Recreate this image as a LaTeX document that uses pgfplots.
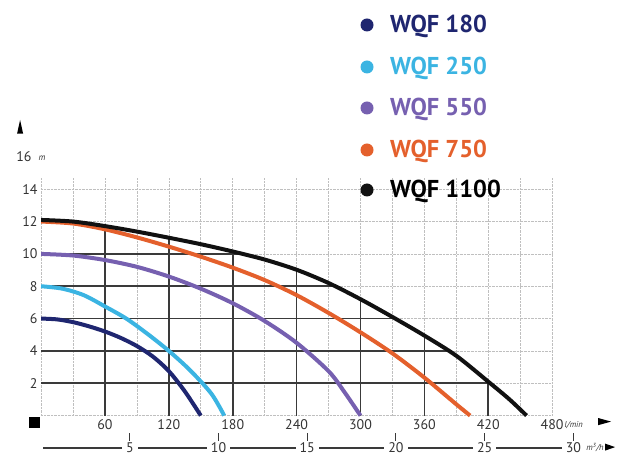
\documentclass[border=0pt]{standalone}
\usepackage{fontspec}
\setmainfont{PT Sans}
\usepackage{pgfplots}
\pgfplotsset{compat=1.18}
\definecolor{c180}{HTML}{1F2670}
\definecolor{c250}{HTML}{3BB4E2}
\definecolor{c550}{HTML}{7660B0}
\definecolor{c750}{HTML}{E4602C}
\definecolor{c1100}{HTML}{111111}
\definecolor{gdark}{HTML}{3A3A3A}
\definecolor{tickc}{HTML}{333333}
\begin{document}
\begin{tikzpicture}
\begin{axis}[
  at={(0,0)}, anchor=south west,
  scale only axis, width=511bp, height=238.5bp,
  xmin=0, xmax=480, ymin=0, ymax=14.75,
  axis line style={draw=none},
  tick style={draw=none},
  xtick={0,60,...,480},
  xticklabels={,60,120,180,240,300,360,420,480},
  minor xtick={30,90,...,450},
  ytick={0,2,...,14},
  yticklabels={,2,4,6,8,10,12,14},
  grid=both,
  major grid style={gray!50, densely dotted, line width=0.7bp},
  minor grid style={gray!50, densely dotted, line width=0.7bp},
  ticklabel style={font=\fontsize{14}{16}\selectfont, text=tickc},
  clip=false,
]
% dark grid segments below the WQF 1100 curve
\addplot[gdark, line width=1.6bp, forget plot] coordinates {(0,2) (421,2)};
\addplot[gdark, line width=1.6bp, forget plot] coordinates {(0,4) (384,4)};
\addplot[gdark, line width=1.6bp, forget plot] coordinates {(0,6) (333,6)};
\addplot[gdark, line width=1.6bp, forget plot] coordinates {(0,8) (277,8)};
\addplot[gdark, line width=1.6bp, forget plot] coordinates {(0,10) (189,10)};
\addplot[gdark, line width=1.6bp, forget plot] coordinates {(0,12) (30,12)};
\addplot[gdark, line width=1.6bp, forget plot] coordinates {(60,0) (60,11.72)};
\addplot[gdark, line width=1.6bp, forget plot] coordinates {(120,0) (120,11.0)};
\addplot[gdark, line width=1.6bp, forget plot] coordinates {(180,0) (180,10.15)};
\addplot[gdark, line width=1.6bp, forget plot] coordinates {(240,0) (240,9.02)};
\addplot[gdark, line width=1.6bp, forget plot] coordinates {(300,0) (300,7.2)};
\addplot[gdark, line width=1.6bp, forget plot] coordinates {(360,0) (360,4.95)};
\addplot[gdark, line width=1.6bp, forget plot] coordinates {(420,0) (420,2.1)};
% pump curves
\addplot[c180, line width=4bp, smooth] coordinates {
 (0,6) (15,5.95) (30,5.78) (45,5.52) (60,5.2) (75,4.8) (90,4.3) (105,3.65) (120,2.75) (135,1.5) (150,0)};
\addplot[c250, line width=4bp, smooth] coordinates {
 (0,8) (20,7.85) (40,7.45) (60,6.75) (80,6.0) (100,5.05) (120,4.0) (140,2.8) (160,1.35) (172,0)};
\addplot[c550, line width=4bp, smooth] coordinates {
 (0,10) (30,9.9) (60,9.62) (90,9.2) (120,8.6) (150,7.85) (180,6.95) (210,5.85) (240,4.5) (270,2.75) (285,1.45) (300,0)};
\addplot[c750, line width=4bp, smooth] coordinates {
 (0,12) (30,11.88) (60,11.52) (90,11.02) (120,10.45) (150,9.83) (180,9.15) (210,8.38) (240,7.45) (270,6.35) (300,5.15) (330,3.85) (360,2.35) (390,0.7) (403,0)};
\addplot[c1100, line width=4bp, smooth] coordinates {
 (0,12.1) (30,12.0) (60,11.72) (90,11.38) (120,11.0) (150,10.6) (180,10.15) (210,9.65) (240,9.02) (270,8.2) (300,7.2) (330,6.1) (360,4.95) (390,3.7) (420,2.1) (440,1.0) (456,0)};
% labels
\node[anchor=east, font=\fontsize{14}{16}\selectfont, text=tickc, xshift=-6bp] at (axis cs:0,16) {16};
\node[anchor=west, font=\fontsize{9}{10}\selectfont\itshape, text=tickc, xshift=-6bp, yshift=-1bp] at (axis cs:0,16) {m};
\node[anchor=west, font=\fontsize{8.5}{9}\selectfont\itshape, text=tickc, xshift=9bp] at (axis cs:480,-0.6) {l/min};
% second scale in m3/h
\draw[gdark, line width=1.3bp] (axis cs:2,-2) -- (axis cs:525,-2);
\pgfplotsinvokeforeach{5,10,15,20,25,30}{
  \draw[gdark, line width=1bp] (axis cs:#1*16.6667,-1.1) -- (axis cs:#1*16.6667,-1.6);
  \node[fill=white, inner xsep=4bp, inner ysep=1bp, font=\fontsize{14}{16}\selectfont, text=tickc] at (axis cs:#1*16.6667,-2) {#1};
}
\node[anchor=west, fill=white, inner xsep=1bp, font=\fontsize{8.5}{9}\selectfont\itshape, text=tickc] at (axis cs:511,-2) {m\textsuperscript{3}/h};
\end{axis}
% arrows and origin square
\fill[black] (-24bp,282bp) -- (-21bp,295.6bp) -- (-18bp,282bp) -- cycle;
\fill[black] (-12.5bp,-1.2bp) rectangle (-1bp,-12.5bp);
\fill[black] (557bp,-9.6bp) -- (570bp,-6bp) -- (557bp,-2.4bp) -- cycle;
\fill[black] (564bp,-35bp) -- (574bp,-31.5bp) -- (564bp,-28bp) -- cycle;
% legend
\begin{scope}[font=\fontsize{24.5}{28}\selectfont\bfseries]
\fill[c180] (325.9bp,390.6bp) circle (6.5bp);
\node[anchor=base west, text=c180, inner sep=0pt] at (348.9bp,382.6bp) {WQF 180};
\fill[c250] (325.9bp,348.6bp) circle (6.5bp);
\node[anchor=base west, text=c250, inner sep=0pt] at (348.9bp,340.6bp) {WQF 250};
\fill[c550] (325.9bp,307.6bp) circle (6.5bp);
\node[anchor=base west, text=c550, inner sep=0pt] at (348.9bp,299.6bp) {WQF 550};
\fill[c750] (325.9bp,265.6bp) circle (6.5bp);
\node[anchor=base west, text=c750, inner sep=0pt] at (348.9bp,257.6bp) {WQF 750};
\fill[c1100] (325.9bp,225.6bp) circle (6.5bp);
\node[anchor=base west, text=black, inner sep=0pt] at (348.9bp,217.6bp) {WQF 1100};
\end{scope}
\pgfresetboundingbox
\path (-41.1bp,-53.4bp) rectangle (598.9bp,415.6bp);
\end{tikzpicture}
\end{document}
